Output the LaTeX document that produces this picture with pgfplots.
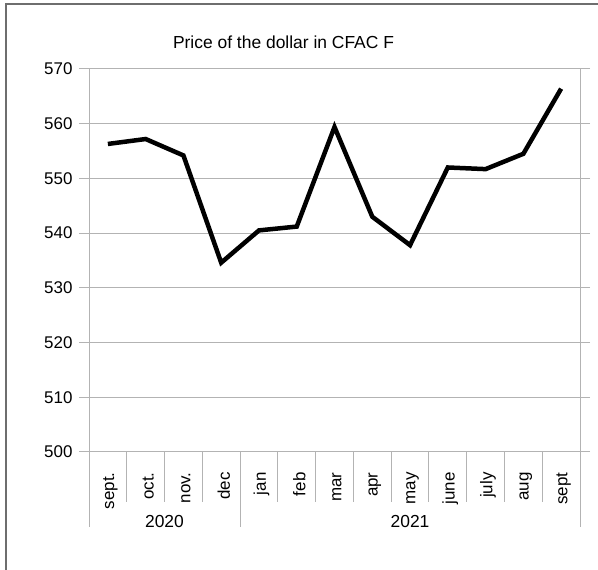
\documentclass[border=0pt]{standalone}
\usepackage{pgfplots}
\pgfplotsset{compat=1.18}
\usepackage{fontspec}
\setmainfont{Liberation Sans}
\definecolor{gridc}{RGB}{179,179,179}
\definecolor{framec}{RGB}{110,110,110}
\begin{document}
\begin{tikzpicture}[x=1bp,y=1bp]
\useasboundingbox (0,0) rectangle (598,570);
\draw[framec, line width=1.5bp] (6,0) -- (6,566) -- (598,566);
\begin{axis}[at={(89bp,118bp)}, anchor=south west, scale only axis,
  width=491bp, height=383bp,
  xmin=-0.5, xmax=12.5, ymin=500, ymax=570,
  ytick={500,510,...,570},
  ymajorgrids, grid style={gridc, line width=1bp},
  axis line style={gridc, line width=1bp},
  xtick={0,...,12},
  xticklabels={sept.,oct.,nov.,dec,jan,feb,mar,apr,may,june,july,aug,sept},
  x tick label style={yshift=-7bp, xshift=2.5bp, rotate=90, anchor=east},
  y tick label style={xshift=-3bp},
  major x tick style={draw=none},
  y tick style={gridc, line width=1bp},
  tick align=outside, major tick length=10bp,
  ticklabel style={font=\fontsize{17}{20}\selectfont},
  /pgf/number format/assume math mode=true,
  clip=false]
\addplot[black, line width=4.5bp] coordinates {
(0,556.3) (1,557.2) (2,554.2) (3,534.6) (4,540.5) (5,541.2) (6,559.4)
(7,543.0) (8,537.8) (9,552.0) (10,551.7) (11,554.5) (12,566.4)};
\end{axis}
\foreach \k in {0,...,13} \draw[gridc, line width=1bp] ({89+37.769*\k},118) -- ({89+37.769*\k},68);
\foreach \k in {0,4,13} \draw[gridc, line width=1bp] ({89+37.769*\k},68) -- ({89+37.769*\k},43);
\node[font=\fontsize{17.5}{20}\selectfont] at (164.5,48.5) {2020};
\node[font=\fontsize{17.5}{20}\selectfont] at (410,48.5) {2021};
\node[font=\fontsize{17.5}{20}\selectfont] at (283.5,528) {Price of the dollar in CFAC F};
\end{tikzpicture}
\end{document}
